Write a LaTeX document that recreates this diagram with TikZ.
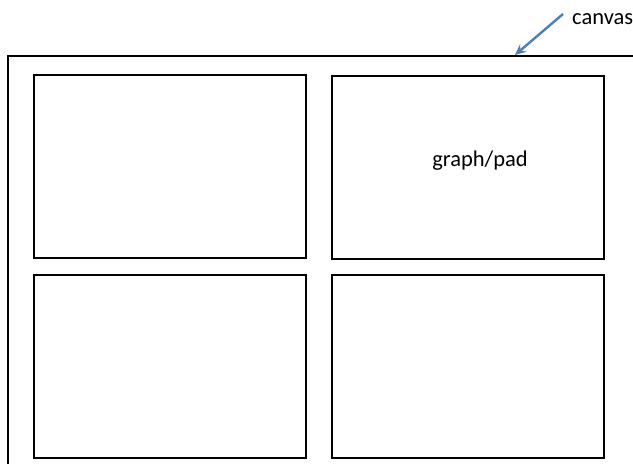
\documentclass[tikz,border=0pt]{standalone}
\usepackage{fontspec}
\setmainfont{Carlito}
\usetikzlibrary{arrows.meta}
\definecolor{arrowblue}{RGB}{74,126,193}
\tikzset{
  padbox/.style={draw=black, line width=2pt, fill=none, inner sep=0pt},
  lbl/.style={inner sep=0pt, font=\fontsize{22.5}{26}\selectfont},
  ptr/.style={draw=arrowblue, line width=2.4pt, -{Stealth[length=11pt,width=10pt,inset=4pt]}}
}
\begin{document}
\begin{tikzpicture}[x=1pt,y=-1pt]
\useasboundingbox (0,0) rectangle (633,464);
% canvas outline
\draw[line width=2pt] (7.5,470) -- (7.5,55.5) -- (640,55.5);
% pads
\node[padbox, minimum width=272pt, minimum height=183pt, anchor=north west] (tl) at (33,73.5) {};
\node[padbox, minimum width=272pt, minimum height=183pt, anchor=north west] (tr) at (331,74.5) {};
\node[padbox, minimum width=272pt, minimum height=183pt, anchor=north west] (bl) at (33,274) {};
\node[padbox, minimum width=272pt, minimum height=183pt, anchor=north west] (br) at (331,274) {};
\node[lbl] (gp) at (480,161) {graph/pad};
\node[lbl, anchor=west] (cv) at (572,19) {canvas};
\coordinate (tip) at (515,55);
\coordinate (tail) at (563,14);
\draw[ptr] (tail) -- (tip);
\end{tikzpicture}
\end{document}
